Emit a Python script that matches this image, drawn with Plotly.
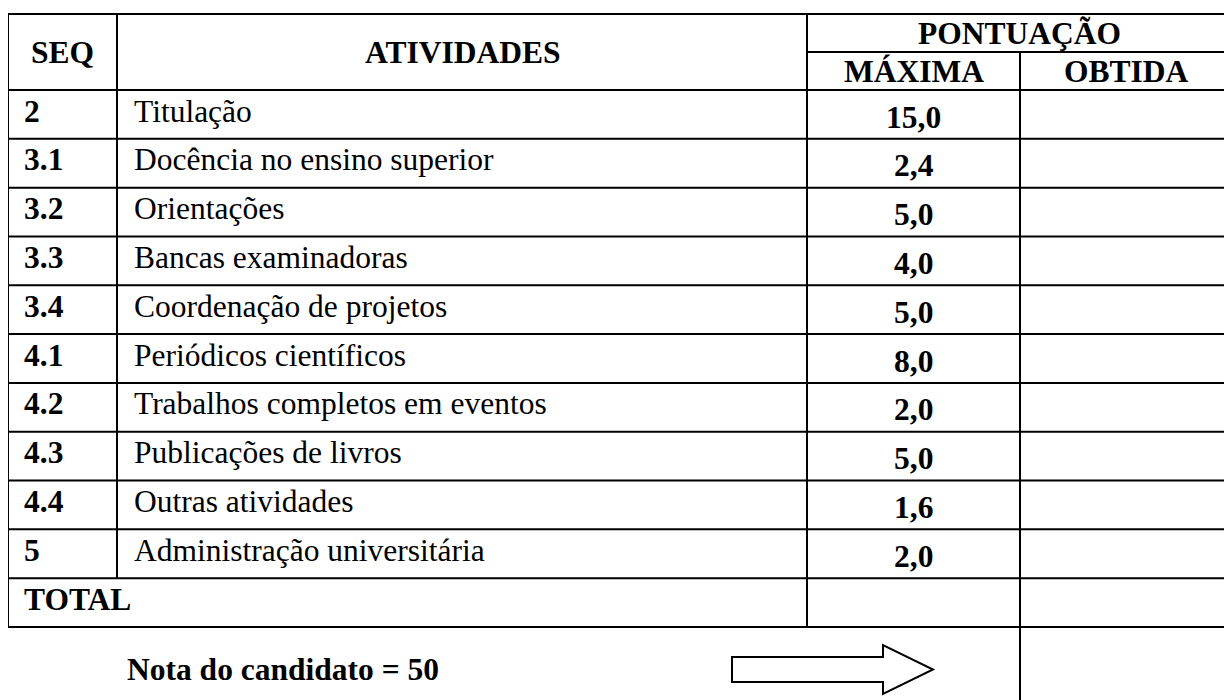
import plotly.graph_objects as go

# ---- data ----
seq = ["2", "3.1", "3.2", "3.3", "3.4", "4.1", "4.2", "4.3", "4.4", "5"]
atividades = ["Titulação", "Docência no ensino superior", "Orientações",
              "Bancas examinadoras", "Coordenação de projetos",
              "Periódicos científicos", "Trabalhos completos em eventos",
              "Publicações de livros", "Outras atividades",
              "Administração universitária"]
maxima = [15.0, 2.4, 5.0, 4.0, 5.0, 8.0, 2.0, 5.0, 1.6, 2.0]
headers = ["SEQ", "ATIVIDADES", "PONTUAÇÃO", "MÁXIMA", "OBTIDA"]
total_label = "TOTAL"
nota_label = "Nota do candidato = 50"

# ---- layout geometry ----
W, H = 1232, 700
OFF = 8  # page body margin compensation
X_L, X_SEQ, X_PT, X_OB, X_R = 8, 117, 807, 1020, 1232
Y_TOP, Y_SUB, Y_HDR = 14, 52, 90
ROW_H = (627 - 90) / 11
FONT = "Liberation Serif, Times New Roman, serif"
FS = 31.5
LW = 2

row_tops = [Y_HDR + i * ROW_H for i in range(len(seq) + 1)]
Y_TOT_BOT = Y_HDR + (len(seq) + 1) * ROW_H

fig = go.Figure()
shapes = []

def hline(y, x0, x1):
    shapes.append(dict(type="line", x0=x0, x1=x1, y0=y, y1=y, xref="x", yref="y",
                       line=dict(color="black", width=LW)))

def vline(x, y0, y1):
    shapes.append(dict(type="line", x0=x, x1=x, y0=y0, y1=y1, xref="x", yref="y",
                       line=dict(color="black", width=LW)))

hline(Y_TOP, X_L - 1, X_R + 20)
hline(Y_SUB, X_PT, X_R + 20)
hline(Y_HDR, X_L - 1, X_R + 20)
for yt in row_tops[1:]:
    hline(yt, X_L - 1, X_R + 20)
hline(Y_TOT_BOT, X_L - 1, X_R + 20)

vline(X_L, Y_TOP, Y_TOT_BOT)
vline(X_SEQ, Y_TOP, row_tops[-1])
vline(X_PT, Y_TOP, Y_TOT_BOT)
vline(X_OB, Y_SUB, H + 20)

# arrow
ax0, ax1, axh = 732, 933, 883
ay_c, sh, hh = 669.5, 12.5, 24.5
arrow_path = (f"M {ax0},{ay_c-sh} L {axh},{ay_c-sh} L {axh},{ay_c-hh} L {ax1},{ay_c} "
              f"L {axh},{ay_c+hh} L {axh},{ay_c+sh} L {ax0},{ay_c+sh} Z")
shapes.append(dict(type="path", path=arrow_path, xref="x", yref="y",
                   line=dict(color="black", width=LW), fillcolor="white"))

ann = []

def text(x, y, s, bold=False, xanchor="center"):
    ann.append(dict(x=x, y=y, xref="x", yref="y", text=(f"<b>{s}</b>" if bold else s),
                    showarrow=False, xanchor=xanchor, yanchor="middle",
                    font=dict(family=FONT, size=FS, color="black")))

# headers
text((X_L + X_SEQ) / 2, (Y_TOP + Y_HDR) / 2, headers[0], bold=True)
text((X_SEQ + X_PT) / 2, (Y_TOP + Y_HDR) / 2, headers[1], bold=True)
text((X_PT + X_R) / 2, (Y_TOP + Y_SUB) / 2, headers[2], bold=True)
text((X_PT + X_OB) / 2, (Y_SUB + Y_HDR) / 2, headers[3], bold=True)
text((X_OB + X_R) / 2, (Y_SUB + Y_HDR) / 2, headers[4], bold=True)

for i, (s, a, m) in enumerate(zip(seq, atividades, maxima)):
    yt = row_tops[i]
    text(X_L + 14, yt + 21, s, bold=True, xanchor="left")
    text(X_SEQ + 15, yt + 21, a, xanchor="left")
    text((X_PT + X_OB) / 2, yt + 27, f"{m:.1f}".replace(".", ","), bold=True)

text(X_L + 14, row_tops[-1] + 21, total_label, bold=True, xanchor="left")
text(283, 669, nota_label, bold=True)

fig.update_layout(
    width=W, height=H, margin=dict(l=0, r=0, t=0, b=0),
    paper_bgcolor="white", plot_bgcolor="white",
    xaxis=dict(range=[OFF, W + OFF], visible=False, fixedrange=True),
    yaxis=dict(range=[H + OFF, OFF], visible=False, fixedrange=True),
    shapes=shapes, annotations=ann, showlegend=False,
)

fig.write_html("out.html", config={"displayModeBar": False})
